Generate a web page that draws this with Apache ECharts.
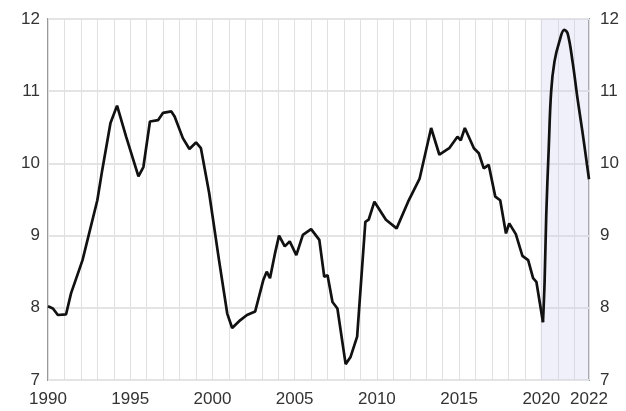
<!DOCTYPE html>
<html>
<head>
<meta charset="utf-8">
<script src="https://cdn.jsdelivr.net/npm/echarts@6/dist/echarts.min.js"></script>
<style>
html,body{margin:0;padding:0;background:#fff;}
#chart{width:626px;height:411px;}
</style>
</head>
<body>
<div id="chart"></div>
<script>
// Historical series (decimal year, value)
const histYears = [1990.0,1990.3,1990.6,1991.1,1991.4,1992.1,1993.0,1993.3,1993.8,1994.2,1994.75,1995.5,1995.8,1996.2,1996.7,1997.0,1997.5,1997.7,1998.2,1998.6,1999.0,1999.3,1999.8,2000.4,2000.9,2001.2,2001.7,2002.1,2002.6,2003.1,2003.3,2003.5,2003.8,2004.05,2004.4,2004.7,2005.1,2005.5,2006.0,2006.5,2006.8,2007.0,2007.3,2007.6,2008.1,2008.4,2008.8,2009.3,2009.5,2009.85,2010.55,2011.2,2011.9,2012.6,2013.3,2013.8,2014.4,2014.9,2015.1,2015.35,2015.9,2016.2,2016.5,2016.8,2017.2,2017.5,2017.85,2018.05,2018.45,2018.85,2019.2,2019.5,2019.7,2020.1];
const histValues = [8.02,7.99,7.90,7.91,8.20,8.66,9.49,9.91,10.56,10.80,10.37,9.82,9.95,10.58,10.60,10.70,10.72,10.65,10.35,10.20,10.29,10.21,9.59,8.66,7.92,7.72,7.83,7.90,7.95,8.39,8.50,8.41,8.75,9.00,8.85,8.92,8.73,9.01,9.09,8.94,8.43,8.45,8.08,7.99,7.22,7.32,7.60,9.19,9.22,9.47,9.22,9.10,9.47,9.79,10.49,10.12,10.21,10.37,10.32,10.49,10.21,10.14,9.93,9.98,9.54,9.49,9.03,9.17,9.02,8.72,8.66,8.41,8.36,7.80];
// Projection arc (shaded period)
const projYears = [2020.1,2020.2,2020.3,2020.45,2020.6,2020.8,2021.1,2021.4,2021.6,2021.9,2022.2,2022.5,2022.9];
const projValues = [7.80,8.36,9.28,10.20,11.00,11.41,11.69,11.85,11.80,11.41,10.90,10.44,9.78];
const xMin = 1990, xMax = 2022.9, xEndLabel = '2022';
const shadeStart = 2019.95;
const yMin = 7, yMax = 12;

const zip = (a, b) => a.map((v, i) => [v, b[i]]);
const labelFont = {fontFamily: 'Liberation Sans, Arial, sans-serif', fontSize: 17, color: '#333'};

const chart = echarts.init(document.getElementById('chart'), null, {renderer: 'canvas'});
chart.setOption({
  animation: false,
  backgroundColor: '#fff',
  grid: {left: 48, right: 37, top: 19, bottom: 31, show: true, borderColor: '#999', borderWidth: 2, backgroundColor: 'transparent'},
  xAxis: {
    type: 'value', min: xMin, max: xMax, interval: 1,
    axisLine: {show: false}, axisTick: {show: false},
    splitLine: {show: true, lineStyle: {color: '#e0e0e0', width: 1}},
    axisLabel: Object.assign({margin: 11, formatter: v => (v >= xMax - 0.01) ? xEndLabel : (Math.round(v) % 5 === 0 && Math.abs(v - Math.round(v)) < 1e-6 ? String(Math.round(v)) : '')}, labelFont)
  },
  yAxis: [
    {type: 'value', min: yMin, max: yMax, interval: 1, position: 'left',
     axisLine: {show: false}, axisTick: {show: false},
     splitLine: {show: true, lineStyle: {color: '#e4e4e4', width: 2}},
     axisLabel: Object.assign({margin: 8}, labelFont)},
    {type: 'value', min: yMin, max: yMax, interval: 1, position: 'right',
     axisLine: {show: false}, axisTick: {show: false}, splitLine: {show: false},
     axisLabel: Object.assign({margin: 11}, labelFont)}
  ],
  series: [
    {type: 'line', data: zip(histYears, histValues), showSymbol: false, symbol: 'none',
     lineStyle: {color: '#111', width: 2.7}, z: 3,
     markArea: {silent: true, itemStyle: {color: 'rgba(205,205,240,0.3)'},
       data: [[{xAxis: shadeStart}, {xAxis: xMax}]]}},
    {type: 'line', data: zip(projYears, projValues), showSymbol: false, symbol: 'none', smooth: 0.4,
     lineStyle: {color: '#111', width: 2.7}, z: 3}
  ]
});
</script>
</body>
</html>
